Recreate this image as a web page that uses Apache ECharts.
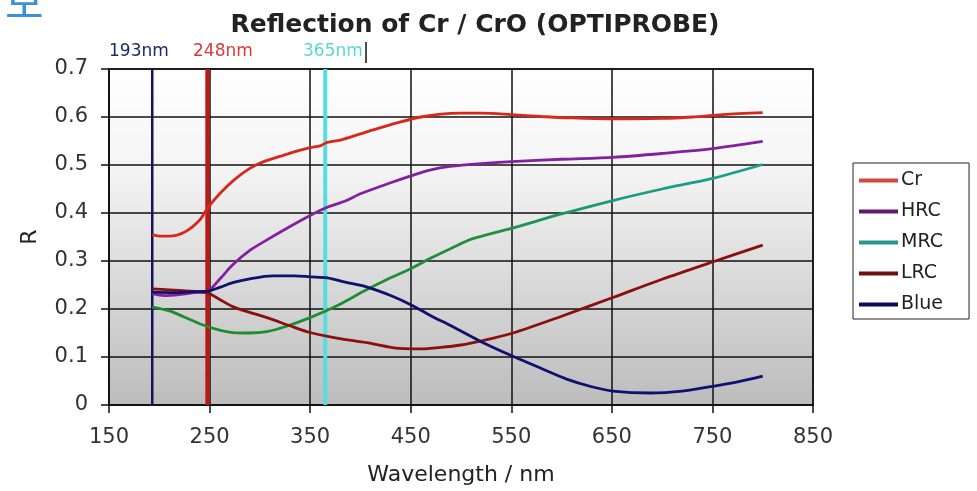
<!DOCTYPE html>
<html>
<head>
<meta charset="utf-8">
<script src="https://cdn.jsdelivr.net/npm/echarts@6/dist/echarts.min.js"></script>
<style>
html,body{margin:0;padding:0;background:#fff;}
#chart{width:977px;height:491px;}
</style>
</head>
<body>
<div id="chart"></div>
<script>
// ---- data ----
const titleText = 'Reflection of Cr / CrO (OPTIPROBE)';
const xTicks = [150, 250, 350, 450, 550, 650, 750, 850];
const yTicks = [0, 0.1, 0.2, 0.3, 0.4, 0.5, 0.6, 0.7];
const seriesNames = ['Cr', 'HRC', 'MRC', 'LRC', 'Blue'];

const crWl  = [193,200,210,225,240,248,260,275,290,305,320,335,350,360,367,380,400,420,440,460,480,500,520,550,580,610,650,700,730,760,800];
const crR   = [0.355,0.352,0.352,0.36,0.385,0.41,0.44,0.47,0.493,0.508,0.518,0.528,0.536,0.54,0.547,0.552,0.565,0.578,0.59,0.6,0.606,0.608,0.608,0.605,0.601,0.598,0.596,0.597,0.6,0.605,0.609];

const hrcWl = [193,205,220,235,248,260,273,290,307,330,350,367,385,400,430,451,470,489,520,550,600,651,700,750,800];
const hrcR  = [0.232,0.228,0.23,0.234,0.237,0.262,0.292,0.322,0.344,0.372,0.395,0.412,0.425,0.44,0.463,0.478,0.49,0.497,0.503,0.507,0.512,0.516,0.524,0.534,0.549];

const mrcWl = [193,210,224,247,262,273,290,307,325,350,375,406,430,452,470,489,511,550,600,651,700,750,800];
const mrcR  = [0.204,0.196,0.184,0.164,0.155,0.151,0.15,0.153,0.163,0.182,0.205,0.24,0.265,0.286,0.306,0.325,0.346,0.368,0.398,0.426,0.45,0.472,0.501];

const lrcWl = [193,210,230,247,260,273,290,307,330,350,375,406,439,460,480,500,519,550,600,651,700,750,800];
const lrcR  = [0.242,0.24,0.237,0.234,0.22,0.205,0.193,0.182,0.165,0.151,0.14,0.13,0.118,0.117,0.12,0.125,0.133,0.149,0.185,0.224,0.262,0.298,0.333];

const blueWl = [193,215,235,248,260,273,290,313,335,350,367,385,406,430,452,470,489,519,550,580,605,630,651,688,720,750,775,800];
const blueR  = [0.235,0.234,0.236,0.237,0.245,0.255,0.263,0.269,0.269,0.267,0.265,0.256,0.246,0.228,0.207,0.186,0.166,0.133,0.103,0.076,0.054,0.038,0.029,0.025,0.029,0.039,0.048,0.06];

const markerWl = [193, 248, 365];
const markerLabels = ['193nm', '248nm', '365nm'];

// ---- chart ----
const pairs = (xs, ys) => xs.map((x, i) => [x, ys[i]]);
const chart = echarts.init(document.getElementById('chart'));

const lineColors = ['#d8281c', '#8420a0', null, '#8a1010', '#10106e'];
const legendColors = ['#d24a3e', '#5e1a6e', '#26988a', '#6a1010', '#0a0a5a'];
const markerColors = ['#14145e', '#b81a18', '#55dede'];
const markerWidths = [2.5, 4.5, 4];
const markerTextColors = ['#1c2a6a', '#d83a3a', '#5ad6d6'];

const mrcGradient = new echarts.graphic.LinearGradient(0, 0, 1, 0, [
  { offset: 0, color: '#1f8a2a' },
  { offset: 0.55, color: '#1f8f3e' },
  { offset: 0.75, color: '#1b9a80' },
  { offset: 1, color: '#18a090' }
]);

const dataSets = [pairs(crWl, crR), pairs(hrcWl, hrcR), pairs(mrcWl, mrcR), pairs(lrcWl, lrcR), pairs(blueWl, blueR)];

const series = [];
markerWl.forEach((w, i) => {
  series.push({
    name: markerLabels[i],
    type: 'line',
    data: [[w, 0], [w, 0.7]],
    symbol: 'none',
    silent: true,
    lineStyle: { color: markerColors[i], width: markerWidths[i] },
    z: 2
  });
});
seriesNames.forEach((n, i) => {
  series.push({
    name: n,
    type: 'line',
    data: dataSets[i],
    symbol: 'none',
    smooth: 0.3,
    lineStyle: { color: i === 2 ? mrcGradient : lineColors[i], width: 2.8 },
    itemStyle: { color: legendColors[i] },
    z: 3
  });
});

const gridLeft = 109, gridRight = 164, gridTop = 69, gridBottom = 85;

chart.setOption({
  animation: false,
  title: {
    text: titleText,
    left: 470, textAlign: 'center',
    top: 8,
    textStyle: { fontFamily: 'DejaVu Sans', fontWeight: 'bold', fontSize: 25, color: '#222' }
  },
  legend: {
    data: seriesNames.map((n, i) => ({ name: n, itemStyle: { color: legendColors[i] } })),
    orient: 'vertical',
    left: 853, top: 163,
    icon: 'rect',
    itemWidth: 39, itemHeight: 4,
    itemGap: 12,
    padding: [8, 26, 5, 6],
    backgroundColor: '#fff',
    borderColor: '#222', borderWidth: 1, borderRadius: 0,
    textStyle: { fontFamily: 'DejaVu Sans', fontSize: 19, color: '#222', padding: [0, 0, 0, -2] }
  },
  grid: {
    left: gridLeft, right: gridRight, top: gridTop, bottom: gridBottom,
    show: true,
    borderColor: '#111', borderWidth: 1.5,
    backgroundColor: new echarts.graphic.LinearGradient(0, 0, 0, 1, [
      { offset: 0, color: '#ffffff' },
      { offset: 0.3, color: '#f4f4f4' },
      { offset: 1, color: '#bcbcbc' }
    ])
  },
  xAxis: {
    type: 'value', min: xTicks[0], max: xTicks[xTicks.length - 1], interval: 100,
    name: 'Wavelength / nm', nameLocation: 'middle', nameGap: 59,
    nameTextStyle: { fontFamily: 'DejaVu Sans', fontSize: 22, color: '#222' },
    axisLine: { show: true, lineStyle: { color: '#111', width: 1.5 } },
    axisTick: { show: true, length: 8, lineStyle: { color: '#111', width: 1.5 } },
    axisLabel: { fontFamily: 'DejaVu Sans', fontSize: 21, color: '#333', margin: 22 },
    splitLine: { show: true, lineStyle: { color: '#111', width: 1.5 } }
  },
  yAxis: {
    type: 'value', min: 0, max: 0.7, interval: 0.1,
    name: 'R', nameLocation: 'middle', nameGap: 68, nameRotate: 90,
    nameTextStyle: { fontFamily: 'DejaVu Sans', fontSize: 22, color: '#222' },
    axisLine: { show: true, lineStyle: { color: '#111', width: 1.5 } },
    axisTick: { show: true, length: 8, lineStyle: { color: '#111', width: 1.5 } },
    axisLabel: { fontFamily: 'DejaVu Sans', fontSize: 21, color: '#333', margin: 21,
      formatter: v => (Math.round(v * 10) / 10).toString() },
    splitLine: { show: true, lineStyle: { color: '#111', width: 1.5 } }
  },
  graphic: [
    { type: 'text', left: 5, top: -19, style: { text: '보', font: '42px "Noto Sans CJK KR"', fill: '#3d8fd6' } },
    { type: 'text', left: 109, top: 43, style: { text: markerLabels[0], font: '17px "DejaVu Sans"', fill: markerTextColors[0] } },
    { type: 'text', left: 193, top: 43, style: { text: markerLabels[1], font: '17px "DejaVu Sans"', fill: markerTextColors[1] } },
    { type: 'text', left: 303, top: 43, style: { text: markerLabels[2], font: '17px "DejaVu Sans"', fill: markerTextColors[2] } },
    { type: 'line', shape: { x1: 366, y1: 42, x2: 366, y2: 63 }, style: { stroke: '#111', lineWidth: 1.5 } }
  ],
  series: series
});
</script>
</body>
</html>
